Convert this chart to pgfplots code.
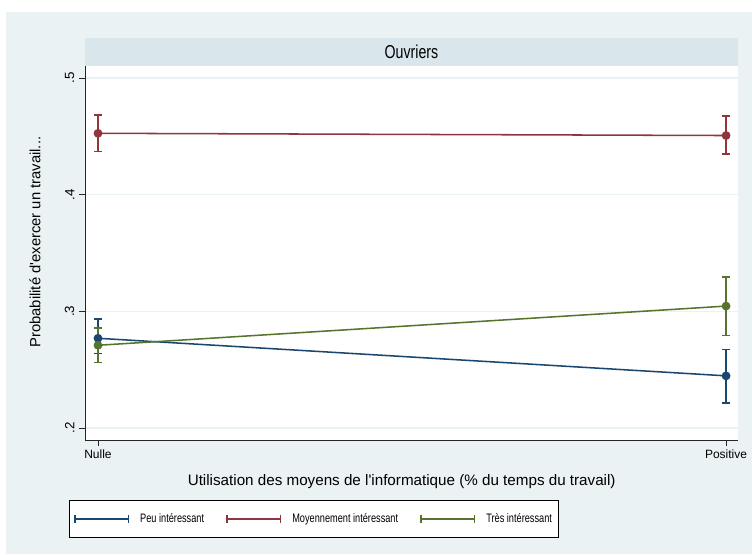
\documentclass[border=0pt]{standalone}
\usepackage{fontspec}
\setmainfont{Liberation Sans}
\newfontfamily\condA{Liberation Sans}[FakeStretch=0.76]
\newfontfamily\condB{Liberation Sans}[FakeStretch=0.75]
\usepackage{pgfplots}
\pgfplotsset{compat=1.18}
\usepackage{pgfplotstable}
\usetikzlibrary{arrows.meta}
\definecolor{bgc}{HTML}{EAF2F3}
\definecolor{titc}{HTML}{D9E6EC}
\definecolor{c1}{HTML}{1A476F}
\definecolor{c2}{HTML}{90353B}
\definecolor{c3}{HTML}{55752F}
\pgfplotstableread{
x y ep em
0 0.2769 0.0165 0.0131
1 0.2447 0.0228 0.0231
}\peu
\pgfplotstableread{
x y ep em
0 0.4526 0.0158 0.0158
1 0.4507 0.0168 0.0159
}\moy
\pgfplotstableread{
x y ep em
0 0.2709 0.0148 0.0147
1 0.3045 0.0248 0.0250
}\tres
\begin{document}
\begin{tikzpicture}
\begin{scope}[x=0.75pt,y=0.75pt]
\useasboundingbox (0,0) rectangle (752,554);
\fill[white] (0,0) rectangle (752,554);
\fill[bgc] (6,0) rectangle (752,542);
\fill[titc] (85,488) rectangle (738,516);
\node[font=\condA\fontsize{14}{16}\selectfont] at (411.5,502) {Ouvriers};
\end{scope}
\begin{axis}[
  at={(63.75pt,85.5pt)}, anchor=south west,
  scale only axis, width=489.75pt, height=280.5pt,
  xmin=-0.0207, xmax=1.019, ymin=0.1897, ymax=0.5103,
  xtick={0,1}, xticklabels={Nulle,Positive},
  ytick={0.2,0.3,0.4,0.5}, yticklabels={.2,.3,.4,.5},
  axis x line*=bottom, axis y line*=left,
  axis line style={black!85, line width=0.6pt, -},
  tick align=outside, major tick length=4.5pt,
  tick style={black!85, line width=0.6pt},
  ymajorgrids, grid style={color=bgc, line width=1.1pt},
  axis background/.style={fill=white},
  ticklabel style={font=\fontsize{9}{11}\selectfont},
  yticklabel style={rotate=90, anchor=south, font=\fontsize{10}{11}\selectfont},
  xticklabel style={yshift=1pt},
  xlabel={Utilisation des moyens de l\textquotesingle informatique (\% du temps du travail)},
  xlabel style={at={(axis description cs:0.485,-0.1123)}, anchor=center, font=\fontsize{11.4}{13}\selectfont},
  ylabel={Probabilité d\textquotesingle exercer un travail...},
  ylabel style={at={(axis description cs:-0.0766,0.529)}, anchor=center, rotate=0, font=\fontsize{11.1}{13}\selectfont},
  legend style={at={(axis description cs:0.3507,-0.2112)}, anchor=center, draw=black, line width=0.6pt, fill=white,
    font=\condB\fontsize{9.2}{10}\selectfont, inner xsep=3pt, inner ysep=7.5pt,
    /tikz/every even column/.append style={column sep=14pt}},
  legend columns=3,
  legend cell align=left,
  legend image code/.code={\draw[#1, line width=1.1pt, {Bar[width=6pt]}-{Bar[width=6pt]}] (0pt,0pt) -- (41.25pt,0pt); \path (47pt,0pt);},
  every axis plot/.append style={line width=1.15pt, mark=*, mark size=2.7pt},
  error bars/y dir=both, error bars/y explicit,
  error bars/error bar style={line width=1.1pt},
  error bars/error mark=-,
  error bars/error mark options={rotate=90, line width=1.1pt, mark size=3pt},
]
\addplot[c1, mark options={fill=c1}] table[x=x, y=y, y error plus=ep, y error minus=em] {\peu};
\addlegendentry{Peu intéressant}
\addplot[c2, mark options={fill=c2}] table[x=x, y=y, y error plus=ep, y error minus=em] {\moy};
\addlegendentry{Moyennement intéressant}
\addplot[c3, mark options={fill=c3}] table[x=x, y=y, y error plus=ep, y error minus=em] {\tres};
\addlegendentry{Très intéressant}
\end{axis}
\end{tikzpicture}
\end{document}
